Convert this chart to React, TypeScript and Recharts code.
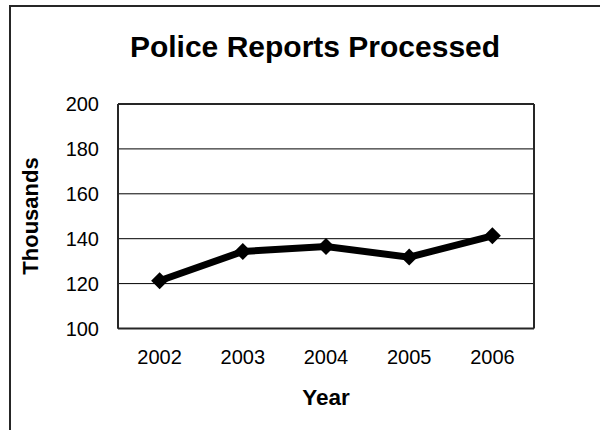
import { LineChart, Line, XAxis, YAxis, CartesianGrid } from 'recharts';

// Reports processed per year, in thousands
const years = ['2002', '2003', '2004', '2005', '2006'];
const reports = [121.3, 134.3, 136.5, 131.8, 141.3];
const yTicks = [100, 120, 140, 160, 180, 200];

const data = years.map((year, i) => ({ year, reports: reports[i] }));

const FONT = '"Liberation Sans", Arial, sans-serif';
const FRAME = '#262626';

const PLOT_W = 416;
// half a category band on each side, so points sit in the middle of their slot
const HALF_BAND = PLOT_W / years.length / 2;

// Filled diamond marker
const Diamond = (props: any) => {
  const { cx, cy } = props;
  if (cx == null || cy == null) return null;
  const r = 8.5;
  return (
    <polygon
      points={`${cx},${cy - r} ${cx + r},${cy} ${cx},${cy + r} ${cx - r},${cy}`}
      fill="#000"
    />
  );
};

export default function App() {
  return (
    <div style={{ position: 'absolute', left: 0, top: 0, width: 600, height: 430, background: '#fff', overflow: 'hidden' }}>
      {/* chart area frame: only the left and top edges fall inside the view */}
      <div
        style={{
          position: 'absolute',
          left: 9,
          top: 5,
          width: 620,
          height: 450,
          borderLeft: `2px solid ${FRAME}`,
          borderTop: `2px solid ${FRAME}`,
        }}
      />
      <div style={{ position: 'absolute', left: 0, top: 0 }}>
        <LineChart
          width={600}
          height={430}
          data={data}
          margin={{ top: 104, right: 66, bottom: 71.5, left: 58 }}
        >
          <CartesianGrid vertical={false} stroke="#000" strokeWidth={1} />
          {/* plot area border */}
          <CartesianGrid
            stroke={FRAME}
            strokeWidth={2}
            horizontalCoordinatesGenerator={({ offset }: any) => [offset.top]}
            verticalCoordinatesGenerator={({ offset }: any) => [offset.left, offset.left + offset.width]}
          />
          <XAxis
            dataKey="year"
            padding={{ left: HALF_BAND, right: HALF_BAND }}
            axisLine={{ stroke: FRAME, strokeWidth: 2 }}
            tickLine={false}
            tickSize={0}
            tickMargin={21.5}
            height={30}
            tick={{ fill: '#000', fontSize: 20, fontFamily: FONT }}
          />
          <YAxis
            domain={[100, 200]}
            ticks={yTicks}
            width={60}
            axisLine={{ stroke: FRAME, strokeWidth: 2 }}
            tickLine={false}
            tickSize={0}
            tickMargin={19}
            tick={{ fill: '#000', fontSize: 20, fontFamily: FONT }}
          />
          <Line
            dataKey="reports"
            stroke="#000"
            strokeWidth={7}
            strokeLinejoin="miter"
            dot={<Diamond />}
            activeDot={false}
            isAnimationActive={false}
          />
        </LineChart>
      </div>
      {/* title and axis titles */}
      <svg
        width={600}
        height={430}
        style={{ position: 'absolute', left: 0, top: 0, pointerEvents: 'none' }}
        fontFamily={FONT}
        fontWeight="bold"
        fill="#000"
      >
        <text x={315} y={56.5} textAnchor="middle" fontSize={30}>
          Police Reports Processed
        </text>
        <text x={38} y={216} textAnchor="middle" fontSize={22} transform="rotate(-90 38 216)">
          Thousands
        </text>
        <text x={326} y={405} textAnchor="middle" fontSize={22.5}>
          Year
        </text>
      </svg>
    </div>
  );
}
